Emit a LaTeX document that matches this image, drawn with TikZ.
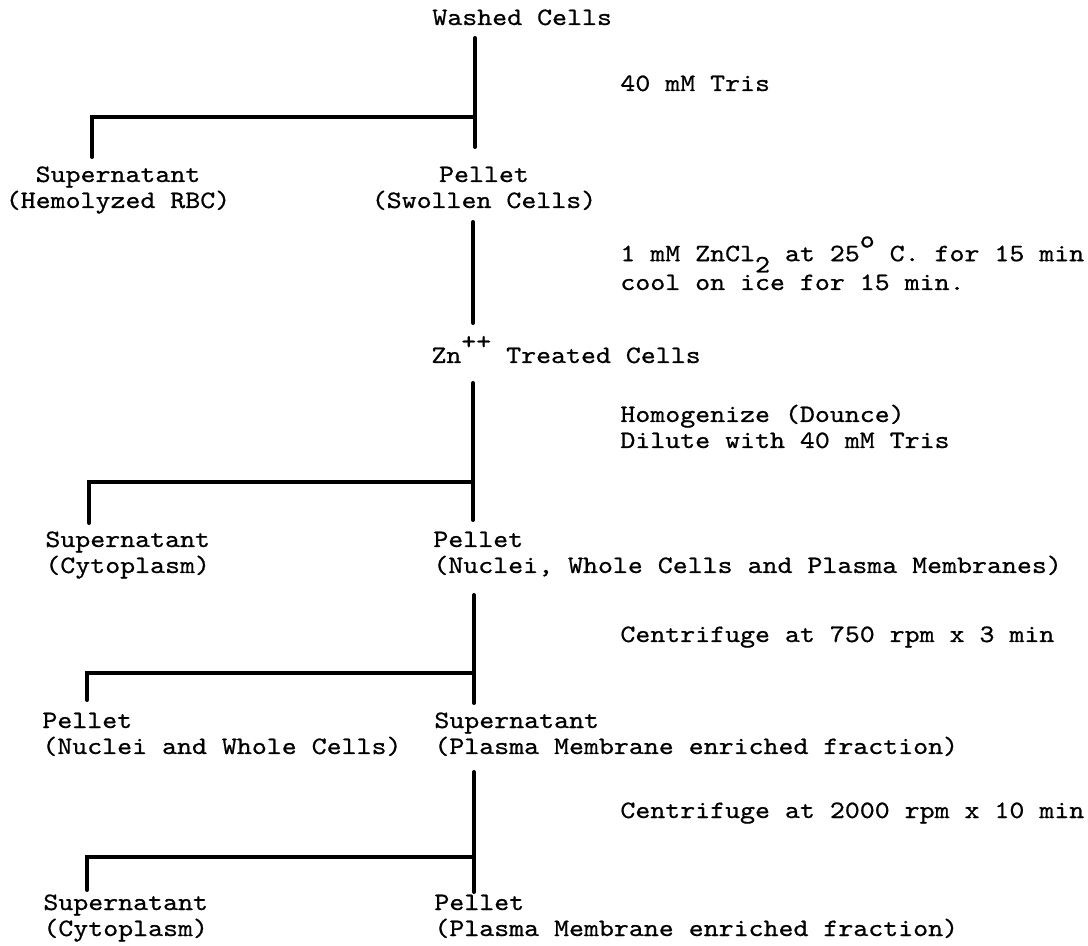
\documentclass[tikz,border=0pt]{standalone}
\usepackage{fontspec}
\newfontfamily\typewriter[FakeStretch=1.14, FakeBold=0.7]{lmmono10-regular.otf}
\usetikzlibrary{positioning}
\newcommand{\up}[1]{\raisebox{0.55em}{#1}}
\newcommand{\down}[1]{\raisebox{-0.45em}{#1}}
\begin{document}
\begin{tikzpicture}[x=0.5pt, y=-0.5pt,
    txt/.style={font=\typewriter\fontsize{12.5}{13}\selectfont, inner sep=0pt,
      anchor=base west, align=left},
    bar/.style={line width=2pt, line cap=round}]
  \useasboundingbox (0,0) rectangle (1088,946);
  % steps down the middle (base = last line)
  \node[txt] (washed) at (432,25) {Washed Cells};
  \node[txt, anchor=base, align=center] (sup1) at (118,208) {Supernatant\\(Hemolyzed RBC)};
  \node[txt, anchor=base, align=center] (pel1) at (484,208) {Pellet\\(Swollen Cells)};
  \node[txt] (zn) at (431,363) {Zn\up{++} Treated Cells};
  \node[txt] (sup2) at (45,573) {Supernatant\\(Cytoplasm)};
  \node[txt] (pel2) at (433,573) {Pellet\\(Nuclei, Whole Cells and Plasma Membranes)};
  \node[txt] (pel3) at (42,754) {Pellet\\(Nuclei and Whole Cells)};
  \node[txt] (sup3) at (434,754) {Supernatant\\(Plasma Membrane enriched fraction)};
  \node[txt] (sup4) at (43,936) {Supernatant\\(Cytoplasm)};
  \node[txt] (pel4) at (434,936) {Pellet\\(Plasma Membrane enriched fraction)};
  % treatments on the right
  \node[txt] (tris) at (620,91) {40 mM Tris};
  \node[txt] (zncl) at (620,290) {1 mM ZnCl\down{2} at 25\up{o} C. for 15 min\\cool on ice for 15 min.};
  \node[txt] (homog) at (620,448) {Homogenize (Dounce)\\Dilute with 40 mM Tris};
  \node[txt] (spin1) at (620,642) {Centrifuge at 750 rpm x 3 min};
  \node[txt] (spin2) at (620,818) {Centrifuge at 2000 rpm x 10 min};
  % bars
  \coordinate (a1) at (475,38);  \coordinate (b1) at (475,147);
  \coordinate (j1) at (475,117); \coordinate (d1) at (92,157);
  \coordinate (a2) at (473,222); \coordinate (b2) at (473,323);
  \coordinate (a3) at (473,383); \coordinate (b3) at (473,520);
  \coordinate (j3) at (473,482); \coordinate (d3) at (89,523);
  \coordinate (a4) at (474,595); \coordinate (b4) at (474,703);
  \coordinate (j4) at (474,673); \coordinate (d4) at (87,700);
  \coordinate (a5) at (474,772); \coordinate (b5) at (474,892);
  \coordinate (j5) at (474,857); \coordinate (d5) at (87,890);
  \draw[bar] (a1) -- (b1) (j1) -| (d1);
  \draw[bar] (a2) -- (b2);
  \draw[bar] (a3) -- (b3) (j3) -| (d3);
  \draw[bar] (a4) -- (b4) (j4) -| (d4);
  \draw[bar] (a5) -- (b5) (j5) -| (d5);
\end{tikzpicture}
\end{document}
